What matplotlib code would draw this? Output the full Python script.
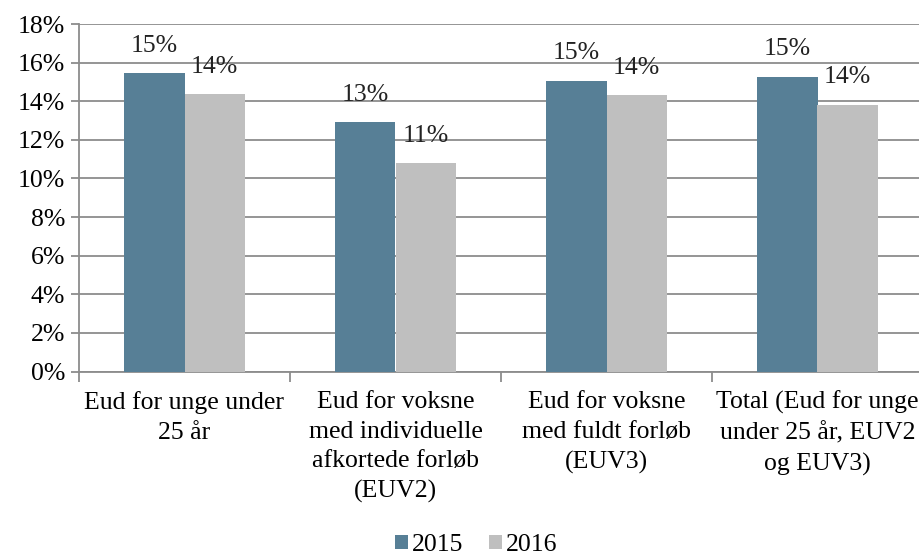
import matplotlib.pyplot as plt
import numpy as np

categories = ['Eud for unge under\n25 år',
              'Eud for voksne\nmed individuelle\nafkortede forløb\n(EUV2)',
              'Eud for voksne\nmed fuldt forløb\n(EUV3)',
              'Total (Eud for unge\nunder 25 år, EUV2\nog EUV3)']
years = ['2015', '2016']
v2015 = [15.45, 12.9, 15.07, 15.27]
v2016 = [14.37, 10.78, 14.3, 13.81]
lab2015 = ['15%', '13%', '15%', '15%']
lab2016 = ['14%', '11%', '14%', '14%']

plt.rcParams['font.family'] = ['Liberation Serif', 'DejaVu Serif']
fs = 18.5

fig = plt.figure(figsize=(9.19, 5.55), dpi=100)
ax = fig.add_axes([79/919, 1-371.5/555, 844/919, (371.5-24)/555])

x = np.arange(len(categories))
w = 0.287
c1 = '#577f96'
c2 = '#bfbfbf'
ax.bar(x - w/2, v2015, w, color=c1, label=years[0], zorder=3)
ax.bar(x + w/2, v2016, w, color=c2, label=years[1], zorder=3)

for i in range(len(x)):
    ax.text(x[i] - w/2, v2015[i] + 0.85, lab2015[i], ha='center', va='bottom',
            fontsize=fs, color='#222222')
    ax.text(x[i] + w/2, v2016[i] + 0.85, lab2016[i], ha='center', va='bottom',
            fontsize=fs, color='#222222')

ax.set_ylim(0, 18)
ax.set_xlim(-0.5, 3.5)
ax.set_yticks(np.arange(0, 19, 2))
ax.set_yticklabels([f'{t}%' for t in range(0, 19, 2)], fontsize=fs)
ax.yaxis.grid(True, color='#8c8c8c', linewidth=1.3, zorder=0)
ax.tick_params(axis='y', length=6, color='#8c8c8c', width=1.3, pad=4)

ax.set_xticks(x)
ax.set_xticklabels(categories, fontsize=fs, linespacing=1.45)
ax.tick_params(axis='x', length=0, pad=14)
ax.set_xticks(np.arange(-0.5, 4.0, 1.0), minor=True)
ax.tick_params(axis='x', which='minor', length=7, color='#8c8c8c', width=1.3)

for s in ['top', 'right']:
    ax.spines[s].set_visible(False)
for s in ['left', 'bottom']:
    ax.spines[s].set_color('#8c8c8c')
    ax.spines[s].set_linewidth(1.3)

ax.legend(loc='center', bbox_to_anchor=(476/919, 1-545/555),
          bbox_transform=fig.transFigure, ncol=2, frameon=False,
          fontsize=fs, handlelength=0.5, handleheight=0.5,
          handletextpad=0.15, columnspacing=1.0)

fig.savefig('out.png', dpi=100)
